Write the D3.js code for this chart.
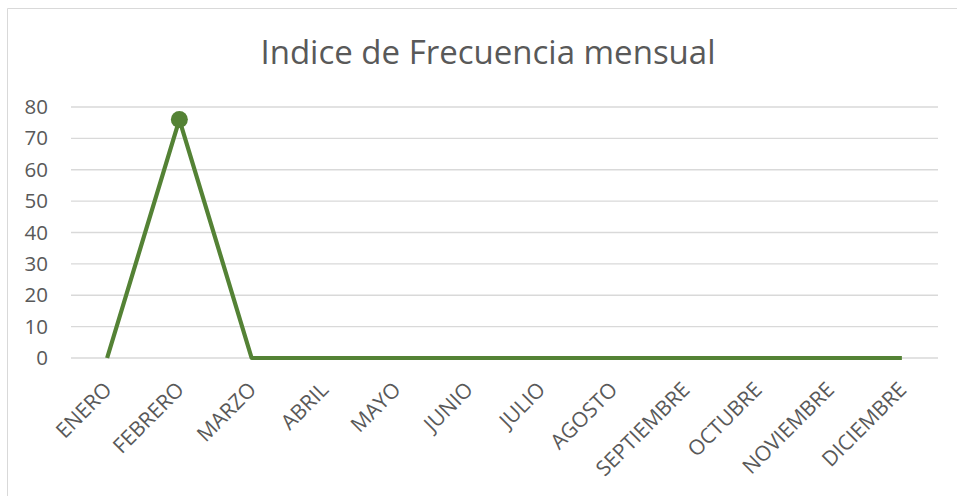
<!DOCTYPE html>
<html><head><meta charset="utf-8">
<script src="https://cdn.jsdelivr.net/npm/d3@7"></script>
<style>html,body{margin:0;padding:0;background:#fff;}svg{display:block;}</style>
</head><body>
<svg id="chart" width="957" height="496"></svg>
<script>
const title = "Indice de Frecuencia mensual";
const months = ["ENERO","FEBRERO","MARZO","ABRIL","MAYO","JUNIO","JULIO","AGOSTO","SEPTIEMBRE","OCTUBRE","NOVIEMBRE","DICIEMBRE"];
const values = [0,76,0,0,0,0,0,0,0,0,0,0];
const yTicks = [0,10,20,30,40,50,60,70,80];

(function(){
const svg = d3.select("#chart");
const font = "'Open Sans', sans-serif";
const textColor = "#595959";

svg.append("line").attr("x1",7.5).attr("x2",957).attr("y1",8.5).attr("y2",8.5).attr("stroke","#d9d9d9").attr("stroke-width",1);
svg.append("line").attr("x1",7.5).attr("x2",7.5).attr("y1",8.5).attr("y2",496).attr("stroke","#d9d9d9").attr("stroke-width",1);

const pl = 71, pr = 938, pt = 107, pb = 358;
const x = d3.scaleBand().domain(months).range([pl, pr]);
const y = d3.scaleLinear().domain([0,80]).range([pb, pt]);

svg.append("text").attr("x",488).attr("y",64).attr("text-anchor","middle")
  .attr("font-family",font).attr("font-size",33).attr("fill",textColor).text(title);

svg.append("g").selectAll("line").data(yTicks).join("line")
  .attr("x1",pl).attr("x2",pr).attr("y1",d=>y(d)).attr("y2",d=>y(d))
  .attr("stroke","#d9d9d9").attr("stroke-width",1.3);

const yAxis = d3.axisLeft(y).tickValues(yTicks).tickSize(0).tickPadding(23);
const gy = svg.append("g").attr("transform",`translate(${pl},0)`).call(yAxis);
gy.select(".domain").remove();
gy.selectAll("text").attr("font-family",font).attr("font-size",20.5).attr("fill",textColor);

const xAxis = d3.axisBottom(x).tickSize(0).tickPadding(0);
const gx = svg.append("g").attr("transform",`translate(0,${pb})`).call(xAxis);
gx.select(".domain").remove();
gx.selectAll("text").attr("font-family",font).attr("font-size",21).attr("fill",textColor)
  .attr("text-anchor","end").attr("dy",null).attr("y",0)
  .attr("transform","translate(6,33) rotate(-45)");

const cx = d => x(d) + x.bandwidth()/2;
const data = months.map((m,i)=>({m, v: values[i]}));
const line = d3.line().x(d=>cx(d.m)).y(d=>y(d.v));
svg.append("path").datum(data).attr("d",line).attr("fill","none")
  .attr("stroke","#548235").attr("stroke-width",4.2).attr("stroke-linejoin","round").attr("stroke-linecap","butt");

svg.append("g").selectAll("circle").data(data.filter(d=>d.v>0)).join("circle")
  .attr("cx",d=>cx(d.m)).attr("cy",d=>y(d.v)).attr("r",8.5).attr("fill","#548235");
})();
</script>
</body></html>
